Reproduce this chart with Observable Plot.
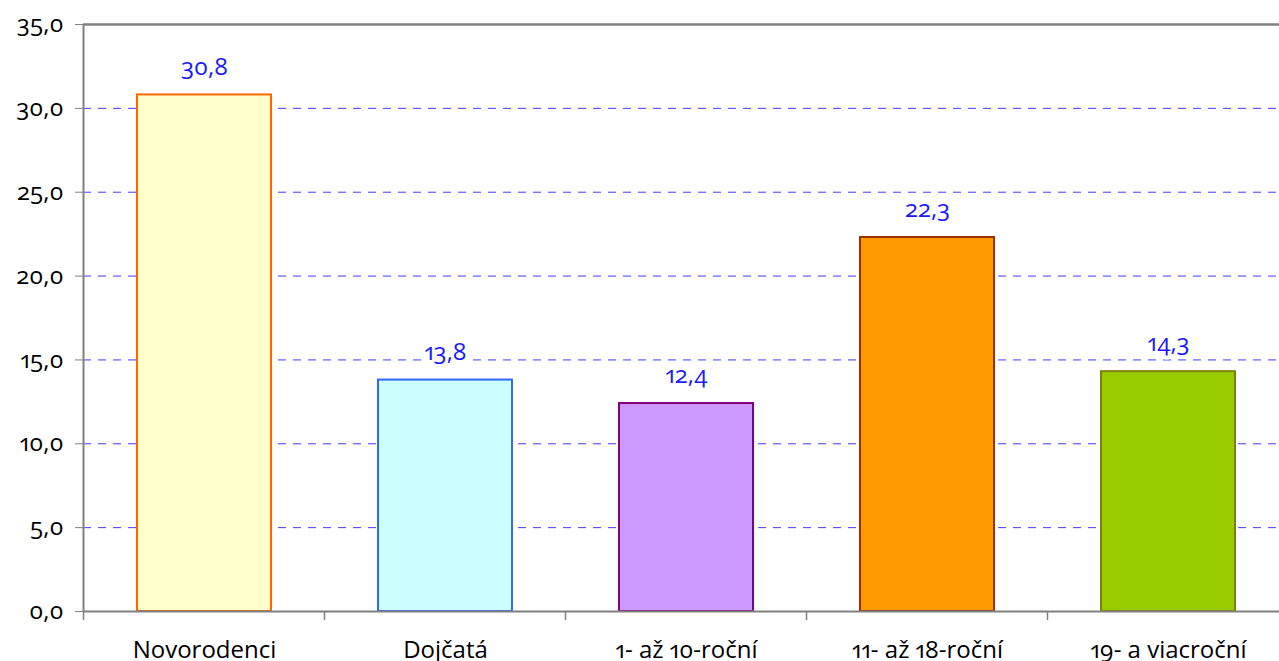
<!DOCTYPE html>
<html>
<head>
<meta charset="utf-8">
<script src="https://cdn.jsdelivr.net/npm/d3@7"></script>
<script src="https://cdn.jsdelivr.net/npm/@observablehq/plot@0.6"></script>
<style>
  html, body { margin: 0; padding: 0; background: #fff; overflow: hidden; width: 1279px; height: 661px; }
  #chart svg { display: block; max-width: none !important; }
  #chart svg text { font-variant-numeric: oldstyle-nums proportional-nums !important; font-feature-settings: "onum" 1, "pnum" 1; }
</style>
</head>
<body>
<div id="chart"></div>
<script>
const categories = ["Novorodenci", "Dojčatá", "1- až 10-roční", "11- až 18-roční", "19- a viacroční"];
const values = [30.8, 13.8, 12.4, 22.3, 14.3];
const yTicks = [0, 5, 10, 15, 20, 25, 30, 35];
const gridTicks = [5, 10, 15, 20, 25, 30];

const fillColors = ["#ffffcc", "#ccffff", "#cc99ff", "#ff9900", "#99cc00"];
const strokeColors = ["#ff6600", "#3366ff", "#800080", "#993300", "#808000"];

const data = categories.map((c, i) => ({category: c, value: values[i]}));
const fmt = d => d.toFixed(1).replace(".", ",");
const FONT = "'Open Sans', 'Noto Sans', sans-serif";

// band boundary ticks and left axis line, computed from the scales
function frameLines(index, scales, values, dimensions) {
  const x = scales.x;
  const step = x.step();
  const bw = x.bandwidth();
  const y0 = scales.y(0);
  const yTop = scales.y(35);
  const g = d3.create("svg:g");
  const edges = categories.map(c => x(c) - (step - bw) / 2);
  edges.push(x(categories[categories.length - 1]) + bw + (step - bw) / 2);
  for (const e of edges) {
    g.append("line").attr("x1", e).attr("x2", e).attr("y1", y0).attr("y2", y0 + 9)
      .attr("stroke", "#808080").attr("stroke-width", 1.5);
  }
  g.append("line").attr("x1", edges[0]).attr("x2", edges[0]).attr("y1", yTop).attr("y2", y0)
    .attr("stroke", "#808080").attr("stroke-width", 2);
  return g.node();
}

const chart = Plot.plot({
  width: 1288,
  height: 661,
  marginTop: 24,
  marginBottom: 50,
  marginLeft: 83,
  marginRight: 0,
  style: {fontFamily: FONT, fontSize: "24px", color: "#000", background: "#fff"},
  x: {domain: categories, paddingInner: 0.444, paddingOuter: 0.222, axis: null, label: null},
  y: {domain: [0, 35], axis: null, label: null},
  color: {domain: categories, range: fillColors},
  marks: [
    Plot.ruleY(gridTicks, {stroke: "#3c3cff", strokeWidth: 1, strokeDasharray: "8,7"}),
    Plot.barY(data, {
      x: "category", y: "value", fill: "category",
      stroke: (d) => strokeColors[categories.indexOf(d.category)],
      strokeWidth: 2
    }),
    Plot.text(data, {
      x: "category", y: "value", text: d => fmt(d.value),
      dy: -28, fill: "#1a1aff", stroke: "white", strokeWidth: 8,
      fontSize: 24, fontFamily: FONT
    }),
    Plot.ruleY([0], {stroke: "#808080", strokeWidth: 2}),
    Plot.ruleY([35], {stroke: "#808080", strokeWidth: 2.5}),
    Plot.axisY({
      ticks: yTicks, tickFormat: fmt, tickSize: 8, tickPadding: 12, label: null,
      stroke: "#808080", fontSize: 24, fontFamily: FONT, fill: "#000"
    }),
    Plot.axisX({
      tickSize: 0, tickPadding: 29, fontSize: 24, fontFamily: FONT, fill: "#000", label: null
    }),
    frameLines
  ]
});

document.getElementById("chart").appendChild(chart);
</script>
</body>
</html>
